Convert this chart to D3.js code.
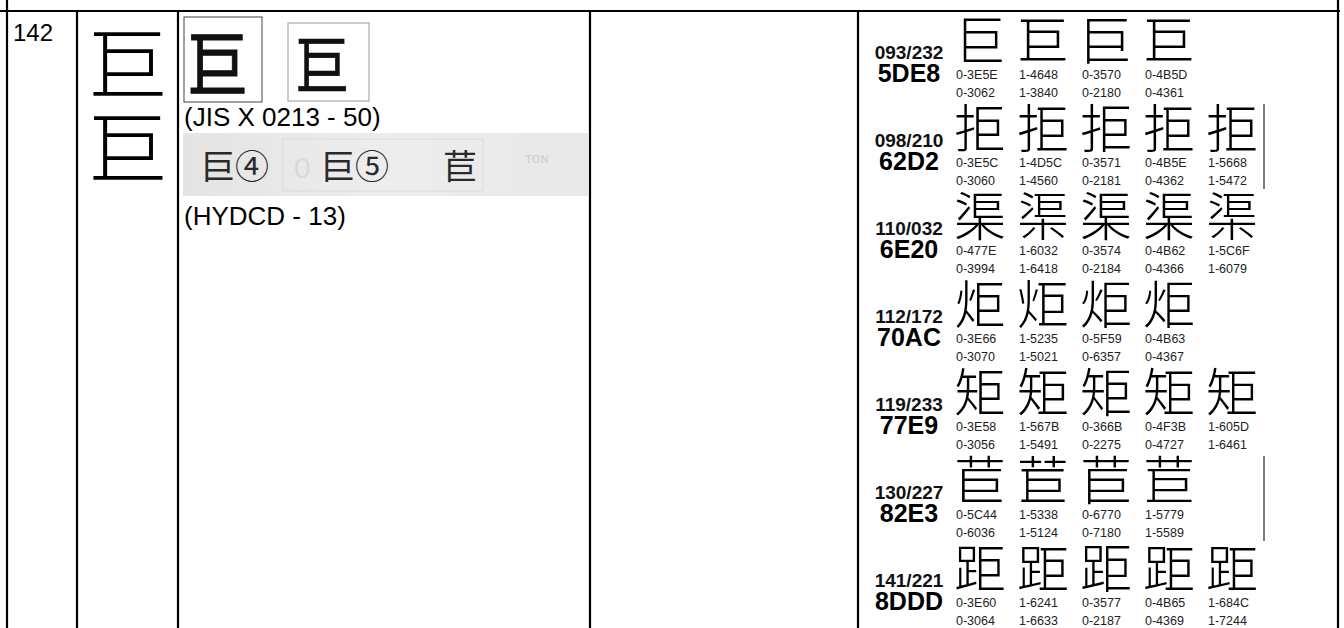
<!DOCTYPE html>
<html>
<head>
<meta charset="utf-8">
<script src="https://cdn.jsdelivr.net/npm/d3@7/dist/d3.min.js"></script>
<style>
  html, body { margin: 0; padding: 0; background: #fff; }
  svg { display: block; }
</style>
</head>
<body>
<svg id="chart" width="1344" height="628"></svg>
<script>
// ---------------- data ----------------
const rowNumber = "142";
const headChars = ["巨", "巨"];
const evidenceLabels = ["(JIS X 0213 - 50)", "(HYDCD - 13)"];
const evidenceBoxChars = ["巨", "巨"];
const hydcdStrip = ["巨④", "巨⑤", "苣"];

const groupRadStroke = ["093/232", "098/210", "110/032", "112/172", "119/233", "130/227", "141/221"];
const groupCodes = ["5DE8", "62D2", "6E20", "70AC", "77E9", "82E3", "8DDD"];
const groupChars = ["巨", "拒", "渠", "炬", "矩", "苣", "距"];
const groupSources = [
  [["0-3E5E", "0-3062"], ["1-4648", "1-3840"], ["0-3570", "0-2180"], ["0-4B5D", "0-4361"]],
  [["0-3E5C", "0-3060"], ["1-4D5C", "1-4560"], ["0-3571", "0-2181"], ["0-4B5E", "0-4362"], ["1-5668", "1-5472"]],
  [["0-477E", "0-3994"], ["1-6032", "1-6418"], ["0-3574", "0-2184"], ["0-4B62", "0-4366"], ["1-5C6F", "1-6079"]],
  [["0-3E66", "0-3070"], ["1-5235", "1-5021"], ["0-5F59", "0-6357"], ["0-4B63", "0-4367"]],
  [["0-3E58", "0-3056"], ["1-567B", "1-5491"], ["0-366B", "0-2275"], ["0-4F3B", "0-4727"], ["1-605D", "1-6461"]],
  [["0-5C44", "0-6036"], ["1-5338", "1-5124"], ["0-6770", "0-7180"], ["1-5779", "1-5589"]],
  [["0-3E60", "0-3064"], ["1-6241", "1-6633"], ["0-3577", "0-2187"], ["0-4B65", "0-4369"], ["1-684C", "1-7244"]]
];
const groupsWithFrame = [1, 5];
const sourceFonts = ["Noto Sans CJK SC", "Noto Sans CJK TC", "Noto Sans CJK JP", "Noto Sans CJK KR", "Noto Sans CJK TC"];

// ---------------- layout ----------------
const svg = d3.select("#chart");
const latin = "'Liberation Sans', Arial, sans-serif";

const colEdges = [7, 77, 178, 590, 858, 1338];
const topY = 11;

// grid lines
const grid = svg.append("g").attr("stroke", "#000").attr("stroke-width", 2.2);
grid.append("line").attr("x1", 0).attr("x2", 1340).attr("y1", topY).attr("y2", topY);
grid.selectAll("line.v").data(colEdges).join("line")
  .attr("class", "v")
  .attr("x1", d => d).attr("x2", d => d)
  .attr("y1", (d, i) => (i === 0 || i === colEdges.length - 1) ? 0 : topY)
  .attr("y2", 628);

// column 1: row number
svg.append("text").attr("x", 13).attr("y", 41)
  .attr("font-family", latin).attr("font-size", 24).attr("fill", "#000")
  .text(rowNumber);

// column 2: head characters
const headY = d3.scalePoint().domain(d3.range(headChars.length)).range([94, 178]);
svg.selectAll("text.head").data(headChars).join("text")
  .attr("class", "head")
  .attr("x", 88).attr("y", (d, i) => headY(i))
  .attr("font-family", "'Noto Sans CJK TC', sans-serif").attr("font-weight", 300)
  .attr("font-size", 80).attr("fill", "#000")
  .text(d => d);

// column 3: evidence
const boxX = d3.scalePoint().domain(d3.range(evidenceBoxChars.length)).range([184, 288]);
const boxes = svg.selectAll("g.box").data(evidenceBoxChars).join("g")
  .attr("class", "box")
  .attr("transform", (d, i) => `translate(${boxX(i)},${i === 0 ? 17 : 23})`);
boxes.append("rect")
  .attr("width", (d, i) => i === 0 ? 78 : 81)
  .attr("height", (d, i) => i === 0 ? 85 : 78)
  .attr("fill", "#fff")
  .attr("stroke", (d, i) => i === 0 ? "#444" : "#999")
  .attr("stroke-width", 1);
boxes.append("text")
  .attr("transform", (d, i) => i === 0 ? "translate(3,74) scale(0.85,1)" : "translate(7,66) scale(0.85,1)")
  .attr("font-family", "'Noto Sans CJK KR', sans-serif").attr("font-weight", 400)
  .attr("font-size", (d, i) => i === 0 ? 72 : 64)
  .attr("fill", "#111").attr("stroke", "#111")
  .attr("stroke-width", (d, i) => i === 0 ? 1 : 0.6)
  .text(d => d);

svg.append("text").attr("x", 184).attr("y", 126)
  .attr("font-family", latin).attr("font-size", 26).attr("fill", "#000")
  .text(evidenceLabels[0]);

// grey scanned strip
const strip = svg.append("g").attr("transform", "translate(183,133)");
const grad = svg.append("defs").append("linearGradient").attr("id", "stripGrad")
  .attr("x1", 0).attr("x2", 1).attr("y1", 0).attr("y2", 0);
grad.append("stop").attr("offset", 0).attr("stop-color", "#e4e4e4");
grad.append("stop").attr("offset", 0.5).attr("stop-color", "#ededed");
grad.append("stop").attr("offset", 1).attr("stop-color", "#e8e8e8");
strip.append("rect").attr("width", 406).attr("height", 63).attr("fill", "url(#stripGrad)");
strip.append("rect").attr("x", 100).attr("y", 6).attr("width", 200).attr("height", 52)
  .attr("fill", "none").attr("stroke", "#dcdcdc").attr("stroke-width", 1);
strip.append("text").attr("x", 111).attr("y", 45).attr("font-family", latin)
  .attr("font-size", 30).attr("fill", "#dadada").text("0");
strip.append("text").attr("x", 342).attr("y", 30).attr("font-family", latin)
  .attr("font-size", 15).attr("fill", "#d0d0d0").text("ᴛᴏɴ");
const stripX = d3.scalePoint().domain(d3.range(hydcdStrip.length)).range([18, 260]);
strip.selectAll("text.h").data(hydcdStrip).join("text")
  .attr("class", "h")
  .attr("x", (d, i) => stripX(i) + (i === 1 ? -1 : 0)).attr("y", 46)
  .attr("font-family", "'Noto Sans CJK JP', sans-serif").attr("font-weight", 400)
  .attr("font-size", 34).attr("fill", "#2a2a2a")
  .text(d => d);

svg.append("text").attr("x", 184).attr("y", 225)
  .attr("font-family", latin).attr("font-size", 26).attr("fill", "#000")
  .text(evidenceLabels[1]);

// column 5: source glyph groups
const yGroup = d3.scaleLinear().domain([0, groupCodes.length - 1]).range([79, 607]);
const xSrc = d3.scaleLinear().domain([0, 4]).range([956, 1208]);
const labelX = 909;

const groups = svg.selectAll("g.grp").data(groupCodes).join("g")
  .attr("class", "grp")
  .attr("transform", (d, i) => `translate(0,${yGroup(i)})`);

groups.append("text").attr("x", labelX).attr("y", -20).attr("text-anchor", "middle")
  .attr("font-family", latin).attr("font-weight", 700).attr("font-size", 19).attr("fill", "#111")
  .text((d, i) => groupRadStroke[i]);
groups.append("text").attr("x", labelX).attr("y", 3).attr("text-anchor", "middle")
  .attr("font-family", latin).attr("font-weight", 700).attr("font-size", 25).attr("fill", "#000")
  .text(d => d);

groups.each(function (code, gi) {
  const g = d3.select(this);
  const srcs = groupSources[gi];
  g.selectAll("text.glyph").data(srcs).join("text")
    .attr("class", "glyph")
    .attr("x", (d, j) => xSrc(j) - 2).attr("y", -19)
    .attr("font-family", (d, j) => `'${sourceFonts[j]}', sans-serif`)
    .attr("font-weight", 300)
    .attr("font-size", 52).attr("fill", "#000")
    .text(groupChars[gi]);
  [0, 1].forEach(k => {
    g.selectAll("text.src" + k).data(srcs).join("text")
      .attr("class", "src" + k)
      .attr("x", (d, j) => xSrc(j)).attr("y", k * 18)
      .attr("font-family", latin).attr("font-size", 12.5).attr("fill", "#222")
      .text(d => d[k]);
  });
  if (groupsWithFrame.includes(gi)) {
    g.append("line").attr("x1", 1264).attr("x2", 1264).attr("y1", -63).attr("y2", 22)
      .attr("stroke", "#000").attr("stroke-width", 1);
  }
});
</script>
</body>
</html>
